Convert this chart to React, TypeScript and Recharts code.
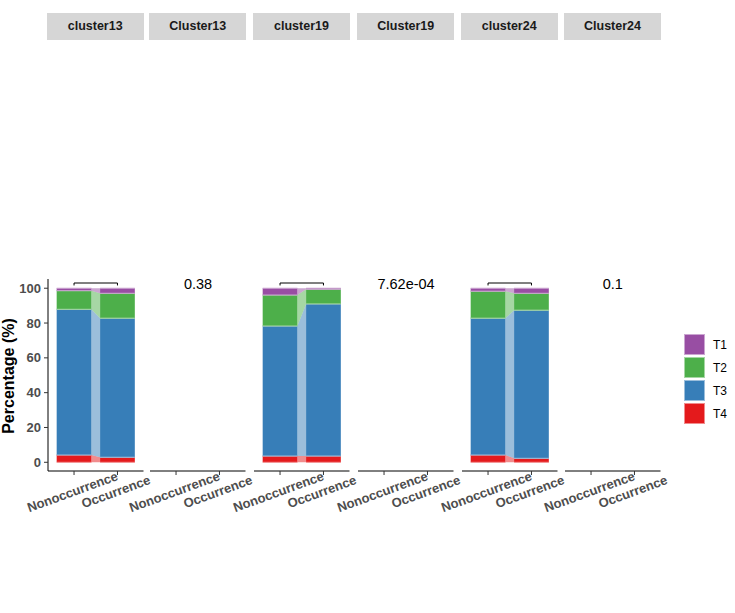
import React from 'react';
import { ComposedChart, Area, Line, XAxis, YAxis } from 'recharts';

// ---- data ----
const categories = ['Nonoccurrence', 'Occurrence'];
const clusters = ['cluster13', 'cluster19', 'cluster24'];
const stripLabels = ['cluster13', 'Cluster13', 'cluster19', 'Cluster19', 'cluster24', 'Cluster24'];
const pValueLabels = ['0.38', '7.62e-04', '0.1'];
const seriesNames = ['T1', 'T2', 'T3', 'T4'];
// values per cluster: [Nonoccurrence, Occurrence]
const t1Values = [[1.4, 2.9], [3.9, 0.6], [1.7, 2.9]];
const t2Values = [[10.7, 14.3], [17.8, 8.4], [15.5, 9.7]];
const t3Values = [[83.7, 79.9], [74.7, 87.4], [78.6, 85.1]];
const t4Values = [[4.2, 2.9], [3.6, 3.6], [4.2, 2.3]];
const yTicks = [0, 20, 40, 60, 80, 100];

const colors: Record<string, string> = { T1: '#984EA3', T2: '#4DAF4A', T3: '#377EB8', T4: '#E41A1C' };
const lightColors: Record<string, string> = { T1: '#CBA6D1', T2: '#A6D7A4', T3: '#9BBEDB', T4: '#F18C8D' };
const FONT = 'Liberation Sans, Arial, sans-serif';

const panelLefts = [47.7, 150.3, 254, 358.3, 461.7, 565];
const panelW = 95.5;
const plotTop = 279;
const plotBottom = 471;
const chartTop = 270;
const chartH = 260;
const xAxisH = 40;
const Y_DOMAIN: [number, number] = [-5, 105.3];
const X_DOMAIN: [number, number] = [0.4, 2.6];
const HALF = 0.4;

function stackFor(ci: number) {
  // bottom to top: T4, T3, T2, T1
  const order = [
    { name: 'T4', vals: t4Values[ci] },
    { name: 'T3', vals: t3Values[ci] },
    { name: 'T2', vals: t2Values[ci] },
    { name: 'T1', vals: t1Values[ci] },
  ];
  const cum = [0, 0];
  return order.map((s) => {
    const lo = [cum[0], cum[1]];
    cum[0] += s.vals[0];
    cum[1] += s.vals[1];
    return { name: s.name, lo, hi: [cum[0], cum[1]] };
  });
}

const plotBottomLocal = plotBottom - chartTop;

const XTick = (props: any) => {
  const { x, payload } = props;
  const y = plotBottomLocal + 25;
  const label = categories[Math.round(payload.value) - 1];
  return (
    <text
      x={x}
      y={y}
      transform={`rotate(-20 ${x} ${y})`}
      textAnchor="middle"
      fontSize={13}
      fontWeight="bold"
      fill="#4D4D4D"
      fontFamily={FONT}
    >
      {label}
    </text>
  );
};

function Panel({ index }: { index: number }) {
  const left = panelLefts[index];
  const hasY = index === 0;
  const isData = index % 2 === 0;
  const ci = Math.floor(index / 2);
  const chartLeft = left - 48;
  const width = 48 + panelW + 20;
  const stack = isData ? stackFor(ci) : [];

  return (
    <div style={{ position: 'absolute', left: chartLeft, top: chartTop }}>
      <ComposedChart
        width={width}
        height={chartH}
        margin={{ top: plotTop - chartTop, right: 20, bottom: chartH - (plotTop - chartTop) - (plotBottom - plotTop) - xAxisH, left: hasY ? 8 : 48 }}
      >
        <XAxis
          type="number"
          dataKey="x"
          domain={X_DOMAIN}
          allowDataOverflow
          ticks={[1, 2]}
          interval={0}
          height={xAxisH}
          tickSize={4}
          tickLine={{ stroke: '#333333' }}
          axisLine={{ stroke: '#000000', strokeWidth: 1 }}
          tick={<XTick />}
        />
        <YAxis
          type="number"
          domain={Y_DOMAIN}
          allowDataOverflow
          ticks={yTicks}
          hide={!hasY}
          width={40}
          tickSize={4}
          tickMargin={3}
          tickLine={{ stroke: '#333333' }}
          axisLine={{ stroke: '#000000', strokeWidth: 1 }}
          tick={{ fontSize: 13, fontWeight: 'bold', fill: '#4D4D4D', fontFamily: FONT }}
        />
        {stack.map((s) => (
          <Area
            key={'flow-' + s.name}
            data={[
              { x: 1 + HALF, v: [s.lo[0], s.hi[0]] },
              { x: 2 - HALF, v: [s.lo[1], s.hi[1]] },
            ]}
            dataKey="v"
            type="linear"
            fill={colors[s.name]}
            fillOpacity={0.5}
            stroke="none"
            isAnimationActive={false}
            dot={false}
            activeDot={false}
          />
        ))}
        {stack.map((s) =>
          [0, 1].map((c) => (
            <Area
              key={'bar-' + s.name + c}
              data={[
                { x: c + 1 - HALF, v: [s.lo[c], s.hi[c]] },
                { x: c + 1 + HALF, v: [s.lo[c], s.hi[c]] },
              ]}
              dataKey="v"
              type="linear"
              fill={colors[s.name]}
              fillOpacity={1}
              stroke={lightColors[s.name]}
              strokeWidth={1}
              isAnimationActive={false}
              dot={false}
              activeDot={false}
            />
          ))
        )}
        {isData && (
          <Line
            data={[
              { x: 1, y: 101.6 },
              { x: 1, y: 103 },
              { x: 2, y: 103 },
              { x: 2, y: 101.6 },
            ]}
            dataKey="y"
            type="linear"
            stroke="#000000"
            strokeWidth={1}
            dot={false}
            activeDot={false}
            isAnimationActive={false}
          />
        )}
      </ComposedChart>
    </div>
  );
}

export default function App() {
  return (
    <div style={{ position: 'absolute', left: 0, top: 0, width: 735, height: 613, background: '#FFFFFF', fontFamily: FONT }}>
      {stripLabels.map((lab, i) => (
        <div
          key={lab}
          style={{
            position: 'absolute',
            left: panelLefts[i] - 1,
            top: 13,
            width: 97,
            height: 27,
            background: '#D6D6D6',
            color: '#1A1A1A',
            fontSize: 12.5,
            fontWeight: 'bold',
            lineHeight: '27px',
            textAlign: 'center',
          }}
        >
          {lab}
        </div>
      ))}
      {[0, 1, 2, 3, 4, 5].map((i) => (
        <Panel key={i} index={i} />
      ))}
      <svg style={{ position: 'absolute', left: 0, top: 0 }} width={735} height={613} pointerEvents="none">
        {pValueLabels.map((p, k) => (
          <text
            key={p}
            x={panelLefts[2 * k + 1] + panelW / 2}
            y={288.5}
            textAnchor="middle"
            fontSize={14.5}
            fill="#000000"
            fontFamily={FONT}
          >
            {p}
          </text>
        ))}
        <text
          x={14}
          y={376}
          transform="rotate(-90 14 376)"
          textAnchor="middle"
          fontSize={16}
          fontWeight="bold"
          fill="#000000"
          fontFamily={FONT}
        >
          Percentage (%)
        </text>
        {seriesNames.map((n, i) => (
          <g key={n}>
            <rect x={684.5} y={334.5 + i * 23} width={20} height={20} fill={colors[n]} stroke={lightColors[n]} strokeWidth={1} />
            <text x={713} y={349 + i * 23} fontSize={12} fill="#000000" fontFamily={FONT}>
              {n}
            </text>
          </g>
        ))}
      </svg>
    </div>
  );
}
